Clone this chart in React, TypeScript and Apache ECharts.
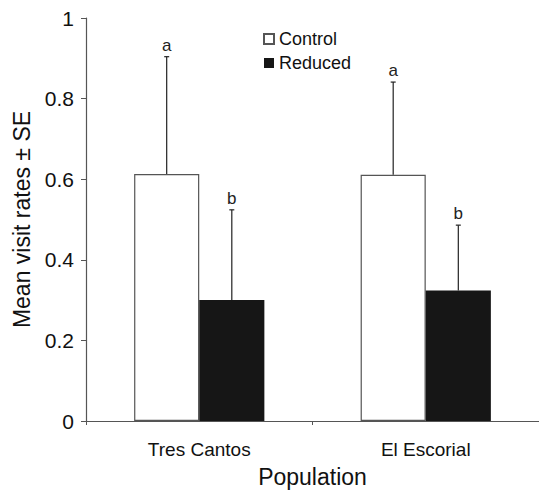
import React, { useEffect, useRef } from "react";
import * as echarts from "echarts";

const categories = ["Tres Cantos", "El Escorial"];
const seriesNames = ["Control", "Reduced"];
const controlMeans = [0.613, 0.611];
const controlUpper = [0.904, 0.841];
const reducedMeans = [0.3, 0.324];
const reducedUpper = [0.524, 0.486];
const controlLetters = ["a", "a"];
const reducedLetters = ["b", "b"];
const yTicks = [0, 0.2, 0.4, 0.6, 0.8, 1];

const FONT = "Liberation Sans, Arial, sans-serif";
const CATEGORY_GAP = 0.425;

function errorSeries(means: number[], upper: number[], letters: string[], side: number) {
  return {
    type: "custom",
    silent: true,
    z: 5,
    data: means.map((m, i) => [i, m, upper[i]]),
    renderItem: (params: any, api: any) => {
      const idx = api.value(0);
      const band = api.size([1, 0])[0];
      const barW = (band * (1 - CATEGORY_GAP)) / 2;
      const base = api.coord([idx, api.value(1)]);
      const top = api.coord([idx, api.value(2)]);
      const x = base[0] + (side * barW) / 2;
      const y0 = base[1];
      const y1 = top[1];
      const ls = { stroke: "#222", lineWidth: 1.2 };
      return {
        type: "group",
        children: [
          { type: "line", shape: { x1: x, y1: y0, x2: x, y2: y1 }, style: ls },
          { type: "line", shape: { x1: x - 2.5, y1: y1, x2: x + 2.5, y2: y1 }, style: ls },
          {
            type: "text",
            x: x,
            y: y1 - 3,
            style: {
              text: letters[params.dataIndex],
              fill: "#222",
              font: `17px ${FONT}`,
              textAlign: "center",
              textVerticalAlign: "bottom",
            },
          },
        ],
      };
    },
  };
}

export default function App() {
  const ref = useRef<HTMLDivElement>(null);
  useEffect(() => {
    if (!ref.current) return;
    const chart = echarts.init(ref.current, undefined, { renderer: "svg" });
    chart.setOption({
      animation: false,
      backgroundColor: "#fff",
      textStyle: { fontFamily: FONT },
      grid: { left: 86, right: -3, top: 18, bottom: 65, containLabel: false },
      legend: {
        data: seriesNames,
        orient: "vertical",
        left: 263,
        top: 30,
        padding: 0,
        icon: "rect",
        itemWidth: 10,
        itemHeight: 10,
        itemGap: 6,
        textStyle: { fontSize: 18, color: "#111", fontFamily: FONT },
      },
      xAxis: {
        type: "category",
        data: categories,
        name: "Population",
        nameLocation: "middle",
        nameGap: 44,
        nameTextStyle: { fontSize: 23, color: "#111", fontFamily: FONT },
        axisLine: { lineStyle: { color: "#555", width: 1.2 } },
        axisTick: { show: true, length: 4, lineStyle: { color: "#555" } },
        axisLabel: { fontSize: 19, color: "#111", margin: 19, fontFamily: FONT },
      },
      yAxis: {
        type: "value",
        min: 0,
        max: 1,
        interval: 0.2,
        name: "Mean visit rates ± SE",
        nameLocation: "middle",
        nameGap: 52,
        nameTextStyle: { fontSize: 23, color: "#111", fontFamily: FONT },
        axisLine: { show: true, lineStyle: { color: "#555", width: 1.2 } },
        axisTick: { show: true, length: 5, lineStyle: { color: "#555" } },
        splitLine: { show: false },
        axisLabel: {
          fontSize: 21,
          color: "#111",
          margin: 12,
          fontFamily: FONT,
          formatter: (v: number) => {
            const t = yTicks.find((k) => Math.abs(k - v) < 1e-9);
            return t === undefined ? "" : String(t);
          },
        },
      },
      series: [
        {
          name: seriesNames[0],
          type: "bar",
          data: controlMeans,
          barGap: "0%",
          barCategoryGap: `${CATEGORY_GAP * 100}%`,
          itemStyle: { color: "#ffffff", borderColor: "#555", borderWidth: 1.2 },
        },
        {
          name: seriesNames[1],
          type: "bar",
          data: reducedMeans,
          barGap: "0%",
          barCategoryGap: `${CATEGORY_GAP * 100}%`,
          itemStyle: { color: "#161616", borderColor: "#161616", borderWidth: 0 },
        },
        errorSeries(controlMeans, controlUpper, controlLetters, -1),
        errorSeries(reducedMeans, reducedUpper, reducedLetters, 1),
      ],
    });
    return () => chart.dispose();
  }, []);
  return (
    <div
      ref={ref}
      style={{ position: "fixed", left: 0, top: 0, width: 539, height: 493, background: "#fff" }}
    />
  );
}
